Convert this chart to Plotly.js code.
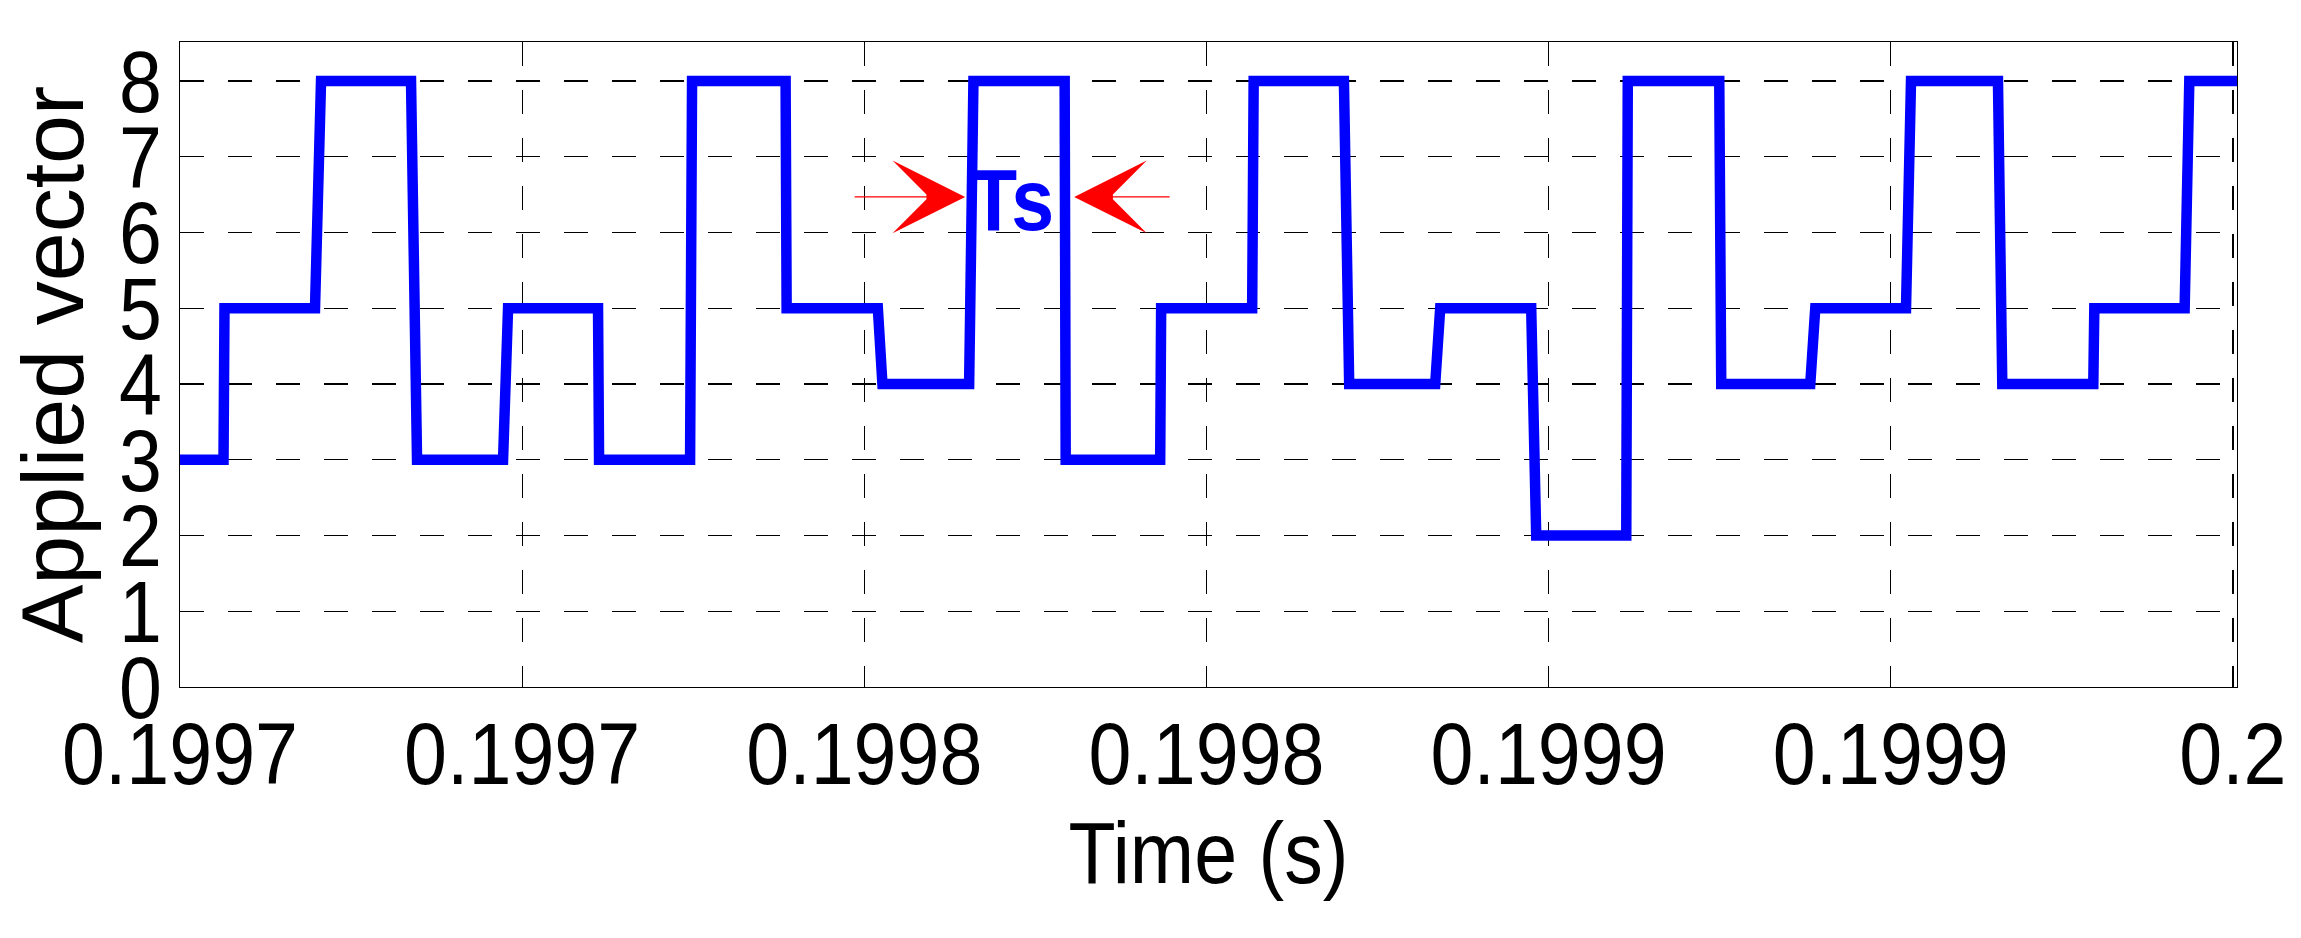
<!DOCTYPE html>
<html>
<head>
<meta charset="utf-8">
<script src="https://cdn.plot.ly/plotly-3.0.1.min.js"></script>
<style>
html,body{margin:0;padding:0;background:#ffffff;}
#chart{width:2301px;height:938px;}
</style>
</head>
<body>
<div id="chart"></div>
<script>
// Time instants (s): each switching ramp has a start and an end point
const time = [
  0.19970000,
  0.19970636, 0.19970650,
  0.19971973, 0.19972061,
  0.19973376, 0.19973464,
  0.19974721, 0.19974794,
  0.19976109, 0.19976124,
  0.19977454, 0.19977483,
  0.19978850, 0.19978865,
  0.19980198, 0.19980265,
  0.19981532, 0.19981595,
  0.19982928, 0.19982943,
  0.19984324, 0.19984338,
  0.19985668, 0.19985690,
  0.19987009, 0.19987086,
  0.19988343, 0.19988416,
  0.19989746, 0.19989819,
  0.19991135, 0.19991157,
  0.19992494, 0.19992523,
  0.19993824, 0.19993897,
  0.19995223, 0.19995296,
  0.19996567, 0.19996630,
  0.19997960, 0.19997975,
  0.19999295, 0.19999363,
  0.20000060
];
// Applied vector index at each time instant
const vector = [
  3,
  3, 5,
  5, 8,
  8, 3,
  3, 5,
  5, 3,
  3, 8,
  8, 5,
  5, 4,
  4, 8,
  8, 3,
  3, 5,
  5, 8,
  8, 4,
  4, 5,
  5, 2,
  2, 8,
  8, 4,
  4, 5,
  5, 8,
  8, 4,
  4, 5,
  5, 8,
  8
];
const xTickVals = [0.1997, 0.19975, 0.1998, 0.19985, 0.1999, 0.19995, 0.2];
const xTickText = ['0.1997', '0.1997', '0.1998', '0.1998', '0.1999', '0.1999', '0.2'];
const yTickVals = [0, 1, 2, 3, 4, 5, 6, 7, 8];
const yTickText = ['0', '1', '2', '3', '4', '5', '6', '7', '8'];
const xTitle = 'Time (s)';
const yTitle = 'Applied vector';
const tsLabel = 'Ts';

const FONT = 'Liberation Sans, Arial, sans-serif';
const SQUEEZE = 0.877; // horizontal text in the reference is narrower than its height suggests

const trace = {
  x: time,
  y: vector,
  type: 'scatter',
  mode: 'lines',
  line: {color: '#0000ff', width: 10.5, shape: 'linear'},
  hoverinfo: 'skip',
  showlegend: false
};

const axisCommon = {
  showline: true,
  linecolor: '#000000',
  linewidth: 1.4,
  mirror: true,
  showgrid: true,
  gridcolor: '#000000',
  gridwidth: 1.3,
  griddash: '24px,24px',
  zeroline: false,
  ticks: '',
  tickfont: {family: FONT, size: 88, color: '#000000'}
};

const layout = {
  width: 2301,
  height: 938,
  paper_bgcolor: '#ffffff',
  plot_bgcolor: '#ffffff',
  margin: {l: 180, r: 64, t: 42, b: 251},
  font: {family: FONT, color: '#000000'},
  xaxis: Object.assign({}, axisCommon, {
    range: [0.1997, 0.2000006],
    tickmode: 'array',
    tickvals: xTickVals,
    ticktext: xTickText,
    ticklabelstandoff: -10,
    title: {text: xTitle, font: {family: FONT, size: 88, color: '#000000'}, standoff: 18}
  }),
  yaxis: Object.assign({}, axisCommon, {
    range: [0, 8.515],
    tickmode: 'array',
    tickvals: yTickVals,
    ticktext: yTickText,
    ticklabelstandoff: -1,
    title: {text: yTitle, font: {family: FONT, size: 88, color: '#000000'}, standoff: 0}
  }),
  annotations: [
    {
      x: 0.19982160, y: 6.44, xref: 'x', yref: 'y',
      text: '<b>' + tsLabel + '</b>', showarrow: false,
      font: {family: FONT, size: 88, color: '#0000ff'},
      xanchor: 'center', yanchor: 'middle'
    },
    {
      x: 0.19981474, y: 6.47, xref: 'x', yref: 'y',
      text: '', showarrow: true, arrowhead: 3, arrowsize: 11, arrowwidth: 1.1,
      arrowcolor: '#ff0000', ax: -112, ay: 0, standoff: 0
    },
    {
      x: 0.19983067, y: 6.47, xref: 'x', yref: 'y',
      text: '', showarrow: true, arrowhead: 3, arrowsize: 11, arrowwidth: 1.1,
      arrowcolor: '#ff0000', ax: 97, ay: 0, standoff: 0
    }
  ]
};

Plotly.newPlot('chart', [trace], layout, {displayModeBar: false, staticPlot: true}).then(function (gd) {
  const texts = gd.querySelectorAll('.xtick text, .ytick text, .g-xtitle text, .annotation-text');
  texts.forEach(function (t) {
    const w = t.getComputedTextLength();
    if (w > 0) {
      t.setAttribute('textLength', (w * SQUEEZE).toFixed(1));
      t.setAttribute('lengthAdjust', 'spacingAndGlyphs');
    }
  });
});
</script>
</body>
</html>
